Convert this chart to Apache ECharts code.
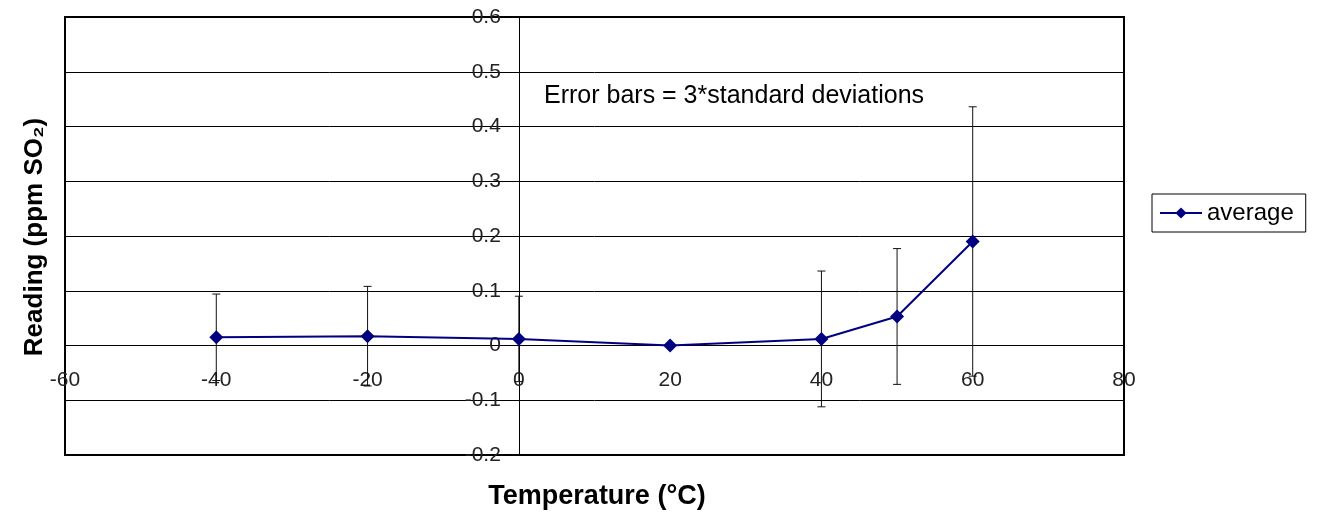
<!DOCTYPE html>
<html>
<head>
<meta charset="utf-8">
<script src="https://cdn.jsdelivr.net/npm/echarts@6/dist/echarts.min.js"></script>
<style>
  html, body { margin: 0; padding: 0; background: #fff; }
  #chart { width: 1319px; height: 515px; }
</style>
</head>
<body>
<div id="chart"></div>
<script>
// temperature (°C) of each test point
const temps = [-40, -20, 0, 20, 40, 50, 60];
// average reading (ppm SO2)
const averages = [0.015, 0.017, 0.012, 0.0, 0.012, 0.053, 0.19];
// error bar half-length (3 * standard deviation)
const errors = [0.079, 0.091, 0.078, 0, 0.124, 0.124, 0.246];

const xTicks = { min: -60, max: 80, step: 20 };
const yTicks = { min: -0.2, max: 0.6, step: 0.1 };

const chart = echarts.init(document.getElementById('chart'));

const lineData = temps.map((t, i) => [t, averages[i]]);
const errData = temps.map((t, i) => [t, averages[i] - errors[i], averages[i] + errors[i]]);

const labelFont = {
  color: '#222',
  fontFamily: 'Liberation Sans, Arial, sans-serif',
  fontSize: 21
};

// plot box, axes cross at (0, 0) like the excel chart
const gridBox = { left: 65, right: 195, top: 17, bottom: 60, width: 1059, height: 438 };
const yAxisShift = -gridBox.width * (0 - xTicks.min) / (xTicks.max - xTicks.min);
const xAxisShift = -gridBox.height * (0 - yTicks.min) / (yTicks.max - yTicks.min);

chart.setOption({
  animation: false,
  grid: {
    left: gridBox.left, right: gridBox.right, top: gridBox.top, bottom: gridBox.bottom,
    show: true, borderColor: '#000', borderWidth: 2, backgroundColor: '#fff'
  },
  legend: {
    data: ['average'],
    left: 1152, top: 194,
    orient: 'vertical',
    borderColor: '#000', borderWidth: 1, borderRadius: 0,
    padding: [7, 12, 7, 7],
    itemWidth: 42, itemHeight: 14,
    textStyle: { color: '#000', fontFamily: 'Liberation Sans, Arial, sans-serif', fontSize: 24 }
  },
  xAxis: {
    type: 'value',
    min: xTicks.min, max: xTicks.max, interval: xTicks.step,
    offset: xAxisShift,
    axisLine: { onZero: false, lineStyle: { color: '#000', width: 1 } },
    axisTick: { show: false },
    axisLabel: Object.assign({ margin: 24, showMinLabel: true, showMaxLabel: true }, labelFont),
    splitLine: { show: false }
  },
  yAxis: {
    type: 'value',
    min: yTicks.min, max: yTicks.max, interval: yTicks.step,
    offset: yAxisShift,
    axisLine: { show: true, onZero: false, lineStyle: { color: '#000', width: 1 } },
    axisTick: { show: false },
    axisLabel: Object.assign({ margin: 18 }, labelFont),
    splitLine: { show: true, lineStyle: { color: '#000', width: 1 } }
  },
  graphic: [
    {
      type: 'text', left: 544, top: 84,
      style: { text: 'Error bars = 3*standard deviations', fill: '#000',
        font: '25px "Liberation Sans", Arial, sans-serif' }
    },
    {
      type: 'text', x: 597, y: 497,
      style: { text: 'Temperature (°C)', fill: '#000', align: 'center', verticalAlign: 'middle',
        font: 'bold 27px "Liberation Sans", Arial, sans-serif' }
    },
    {
      type: 'text', x: 35, y: 237, rotation: Math.PI / 2,
      style: { text: 'Reading (ppm SO₂)', fill: '#000', align: 'center', verticalAlign: 'middle',
        font: 'bold 26px "Liberation Sans", Arial, sans-serif' }
    }
  ],
  series: [
    {
      type: 'custom',
      name: 'error',
      data: errData,
      z: 1,
      silent: true,
      renderItem: function (params, api) {
        const x = api.value(0);
        const lo = api.coord([x, api.value(1)]);
        const hi = api.coord([x, api.value(2)]);
        if (Math.abs(hi[1] - lo[1]) < 1) return null;
        const cap = 4;
        const style = { stroke: '#111', lineWidth: 1 };
        return {
          type: 'group',
          children: [
            { type: 'line', shape: { x1: lo[0], y1: lo[1], x2: hi[0], y2: hi[1] }, style: style },
            { type: 'line', shape: { x1: hi[0] - cap, y1: hi[1], x2: hi[0] + cap, y2: hi[1] }, style: style },
            { type: 'line', shape: { x1: lo[0] - cap, y1: lo[1], x2: lo[0] + cap, y2: lo[1] }, style: style }
          ]
        };
      }
    },
    {
      type: 'line',
      name: 'average',
      data: lineData,
      z: 3,
      symbol: 'diamond',
      symbolSize: 14,
      color: '#000080',
      lineStyle: { color: '#000080', width: 2 },
      itemStyle: { color: '#000080' }
    }
  ]
});
</script>
</body>
</html>
